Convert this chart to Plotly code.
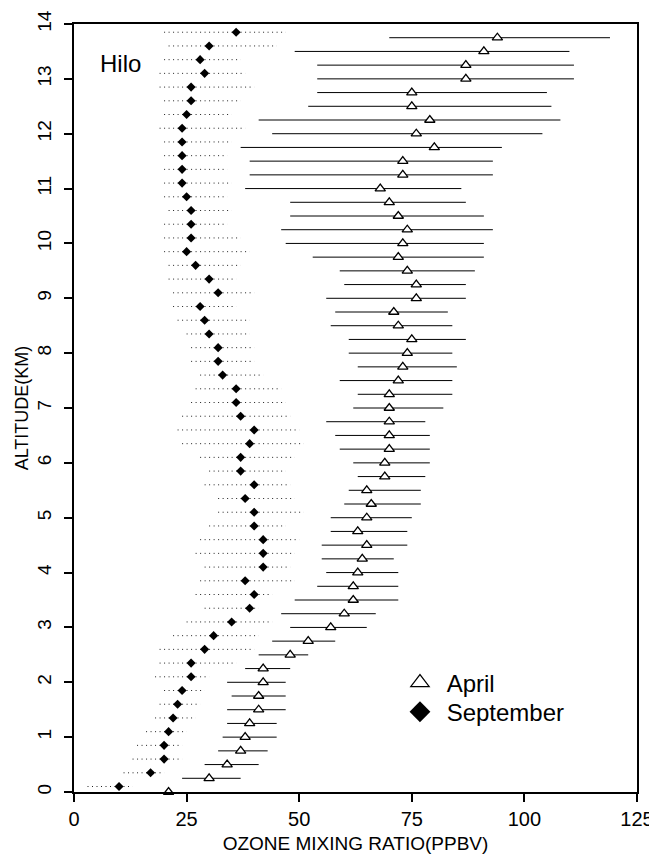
import plotly.graph_objects as go

# ---------------- data ----------------
april_alt = [0.25 * k for k in range(56)]
april_o3 = [21, 30, 34, 37, 38, 39, 41, 41, 42, 42, 48, 52, 57, 60, 62, 62, 63, 64, 65, 63,
            65, 66, 65, 69, 69, 70, 70, 70, 70, 70, 72, 73, 74, 75, 72, 71, 76, 76, 74, 72,
            73, 74, 72, 70, 68, 73, 73, 80, 76, 79, 75, 75, 87, 87, 91, 94]
april_lo = [21, 24, 29, 32, 33, 34, 34, 35, 34, 38, 41, 44, 48, 46, 49, 54, 56, 55, 55, 57,
            57, 60, 61, 63, 62, 59, 58, 56, 62, 63, 59, 63, 61, 61, 57, 58, 56, 60, 59, 53,
            47, 46, 48, 48, 38, 39, 39, 37, 44, 41, 52, 54, 54, 54, 49, 70]
april_hi = [21, 37, 41, 43, 45, 45, 47, 47, 47, 48, 52, 58, 65, 67, 72, 72, 72, 71, 74, 74,
            75, 77, 77, 78, 79, 79, 79, 78, 82, 84, 84, 85, 84, 87, 84, 83, 87, 87, 89, 91,
            91, 93, 91, 87, 86, 93, 93, 95, 104, 108, 106, 105, 111, 111, 110, 119]

sept_alt = [0.1 + 0.25 * k for k in range(56)]
sept_o3 = [10, 17, 20, 20, 21, 22, 23, 24, 26, 26, 29, 31, 35, 39, 40, 38, 42, 42, 42, 40,
           40, 38, 40, 37, 37, 39, 40, 37, 36, 36, 33, 32, 32, 30, 29, 28, 32, 30, 27, 25,
           26, 26, 26, 25, 24, 24, 24, 24, 24, 25, 26, 26, 29, 28, 30, 36]
sept_lo = [3, 11, 13, 14, 16, 18, 19, 20, 18, 19, 19, 22, 25, 29, 27, 28, 29, 27, 28, 30,
           32, 32, 29, 30, 28, 24, 23, 24, 26, 27, 28, 26, 26, 25, 23, 22, 22, 21, 21, 20,
           20, 20, 21, 20, 20, 20, 20, 20, 19, 20, 20, 19, 19, 20, 21, 20]
sept_hi = [13, 20, 24, 24, 25, 27, 28, 29, 30, 36, 40, 41, 44, 41, 44, 49, 48, 49, 50, 47,
           51, 49, 48, 47, 49, 51, 50, 48, 47, 46, 42, 40, 40, 39, 39, 36, 40, 36, 37, 39,
           37, 34, 35, 34, 35, 34, 34, 35, 38, 35, 37, 40, 38, 37, 45, 47]

x_ticks = [0, 25, 50, 75, 100, 125]
y_ticks = list(range(0, 15))

FONT = "Liberation Sans, Arial, Helvetica, sans-serif"

fig = go.Figure()

# September dotted ranges
sx, sy = [], []
for lo, hi, a in zip(sept_lo, sept_hi, sept_alt):
    sx += [lo, hi, None]
    sy += [a, a, None]
fig.add_trace(go.Scatter(
    x=sx, y=sy, mode="lines", showlegend=False, hoverinfo="skip",
    line=dict(color="#222", width=1, dash="1px,3.5px")))

# April with solid ranges
fig.add_trace(go.Scatter(
    x=april_o3, y=april_alt, mode="markers", showlegend=False, cliponaxis=False,
    marker=dict(symbol="triangle-up", size=9, color="white",
                line=dict(color="black", width=1.3)),
    error_x=dict(type="data", symmetric=False,
                 array=[h - v for h, v in zip(april_hi, april_o3)],
                 arrayminus=[v - l for v, l in zip(april_o3, april_lo)],
                 color="black", thickness=1, width=0)))

# September markers
fig.add_trace(go.Scatter(
    x=sept_o3, y=sept_alt, mode="markers", showlegend=False, cliponaxis=False,
    marker=dict(symbol="diamond", size=7, color="black", line=dict(width=0))))

# legend entries (one legend box per entry for exact placement)
fig.add_trace(go.Scatter(
    x=[None], y=[None], mode="markers", name="\u00a0April", legend="legend",
    marker=dict(symbol="triangle-up", size=16, color="white",
                line=dict(color="black", width=1.2))))
fig.add_trace(go.Scatter(
    x=[None], y=[None], mode="markers", name="\u00a0September", legend="legend2",
    marker=dict(symbol="diamond", size=16, color="black", line=dict(width=0))))

fig.add_annotation(text="Hilo", xref="paper", yref="paper", x=0.042, y=0.949,
                   xanchor="left", yanchor="middle", showarrow=False,
                   font=dict(family=FONT, size=24, color="black"))

leg_common = dict(xanchor="left", yanchor="middle", bgcolor="rgba(0,0,0,0)",
                  font=dict(family=FONT, size=24, color="black"), itemsizing="trace")

# the page body adds an 8px offset, so the figure is sized/margined to compensate
fig.update_layout(
    width=649, height=846,
    margin=dict(l=66, r=20, t=16, b=62, autoexpand=False),
    paper_bgcolor="white", plot_bgcolor="white",
    font=dict(family=FONT, color="black"),
    showlegend=True,
    legend=dict(x=0.579, y=0.142, **leg_common),
    legend2=dict(x=0.579, y=0.104, **leg_common),
    xaxis=dict(range=[0, 125], tickvals=x_ticks, ticktext=[str(v) for v in x_ticks],
               automargin=False,
               showgrid=False, zeroline=False, showline=True, linecolor="black",
               linewidth=2, mirror=True, ticks="outside", ticklen=8, tickwidth=1.5,
               tickcolor="black", tickfont=dict(size=20, color="black"),
               title=dict(text="OZONE MIXING RATIO(PPBV)",
                          font=dict(size=19, color="black"), standoff=8)),
    yaxis=dict(range=[0, 14], tickvals=y_ticks, ticktext=[str(v) for v in y_ticks],
               automargin=False,
               showgrid=False, zeroline=False, showline=True, linecolor="black",
               linewidth=2, mirror=True, ticks="outside", ticklen=8, tickwidth=1.5,
               tickcolor="black", tickfont=dict(size=19, color="black"), tickangle=-90,
               ticklabelstandoff=5,
               title=dict(text="ALTITUDE(KM)", font=dict(size=18, color="black"),
                          standoff=1)),
)

fig.write_html("out.html")
